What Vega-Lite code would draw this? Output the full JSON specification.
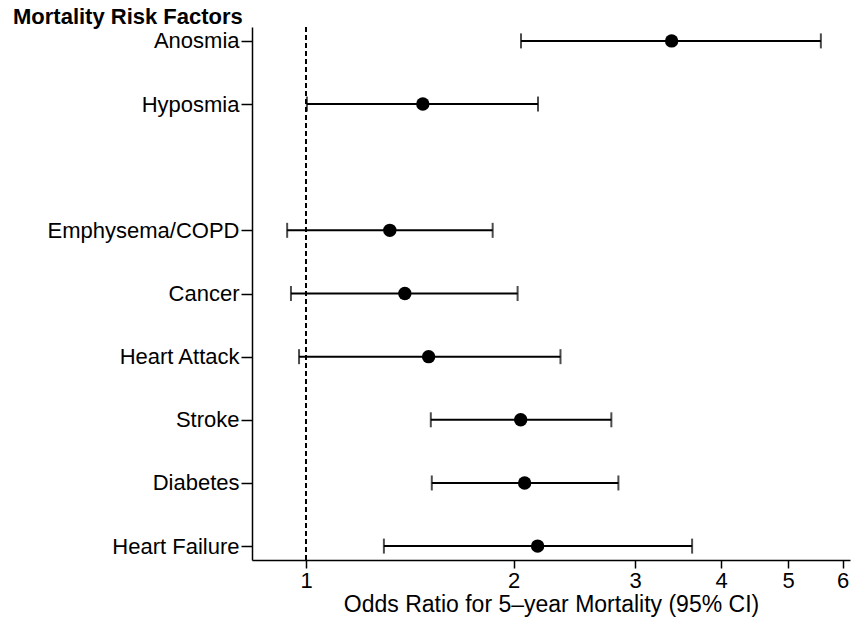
{
  "$schema": "https://vega.github.io/schema/vega-lite/v6.json",
  "autosize": {"type": "none"},
  "padding": {"left": 252, "top": 27, "right": 1, "bottom": 64},
  "width": 598,
  "height": 533,
  "background": "white",
  "config": {
    "view": {"stroke": null},
    "font": "Liberation Sans",
    "axis": {"labelFont": "Liberation Sans", "titleFont": "Liberation Sans", "labelColor": "black", "titleColor": "black", "domainColor": "black", "tickColor": "black", "grid": false}
  },
  "title": {
    "text": "Mortality Risk Factors",
    "anchor": "start",
    "frame": "group",
    "dx": -239,
    "dy": 21,
    "offset": 1,
    "baseline": "alphabetic",
    "fontSize": 22,
    "fontWeight": "bold",
    "font": "Liberation Sans",
    "color": "black"
  },
  "data": {
    "values": [
      {"factor": "Anosmia", "or": 3.39, "lo": 2.05, "hi": 5.58},
      {"factor": "Hyposmia", "or": 1.477, "lo": 1.003, "hi": 2.17},
      {"factor": "Emphysema/COPD", "or": 1.323, "lo": 0.939, "hi": 1.865},
      {"factor": "Cancer", "or": 1.391, "lo": 0.951, "hi": 2.027},
      {"factor": "Heart Attack", "or": 1.506, "lo": 0.977, "hi": 2.339},
      {"factor": "Stroke", "or": 2.048, "lo": 1.517, "hi": 2.772},
      {"factor": "Diabetes", "or": 2.075, "lo": 1.522, "hi": 2.838},
      {"factor": "Heart Failure", "or": 2.167, "lo": 1.297, "hi": 3.63}
    ]
  },
  "encoding": {
    "y": {
      "field": "factor",
      "type": "nominal",
      "scale": {
        "type": "point",
        "padding": 0.22,
        "domain": ["Anosmia", "Hyposmia", " ", "Emphysema/COPD", "Cancer", "Heart Attack", "Stroke", "Diabetes", "Heart Failure"]
      },
      "axis": {
        "title": null,
        "values": ["Anosmia", "Hyposmia", "Emphysema/COPD", "Cancer", "Heart Attack", "Stroke", "Diabetes", "Heart Failure"],
        "labelFontSize": 22,
        "labelLimit": 400,
        "tickSize": 11,
        "labelPadding": 2,
        "domainWidth": 1.5,
        "tickWidth": 1.5
      }
    }
  },
  "layer": [
    {
      "mark": {"type": "rule", "strokeDash": [5, 3], "strokeWidth": 2, "color": "black"},
      "encoding": {"x": {"datum": 1, "type": "quantitative"}, "y": null}
    },
    {
      "mark": {"type": "rule", "strokeWidth": 2, "color": "black"},
      "encoding": {
        "x": {
          "field": "lo",
          "type": "quantitative",
          "scale": {"type": "log", "domain": [0.835, 6.15], "nice": false, "zero": false},
          "axis": {
            "title": "Odds Ratio for 5–year Mortality (95% CI)",
            "values": [1, 2, 3, 4, 5, 6],
            "format": "d",
            "labelFontSize": 22,
            "titleFontSize": 23,
            "titleFontWeight": "normal",
            "tickSize": 8,
            "labelPadding": 2,
            "titlePadding": 2,
            "domainWidth": 1.5,
            "tickWidth": 1.5
          }
        },
        "x2": {"field": "hi"}
      }
    },
    {
      "mark": {"type": "tick", "thickness": 2, "size": 15, "color": "black"},
      "encoding": {"x": {"field": "lo", "type": "quantitative"}}
    },
    {
      "mark": {"type": "tick", "thickness": 2, "size": 15, "color": "black"},
      "encoding": {"x": {"field": "hi", "type": "quantitative"}}
    },
    {
      "mark": {"type": "circle", "size": 180, "opacity": 1, "color": "black"},
      "encoding": {"x": {"field": "or", "type": "quantitative"}}
    }
  ]
}
